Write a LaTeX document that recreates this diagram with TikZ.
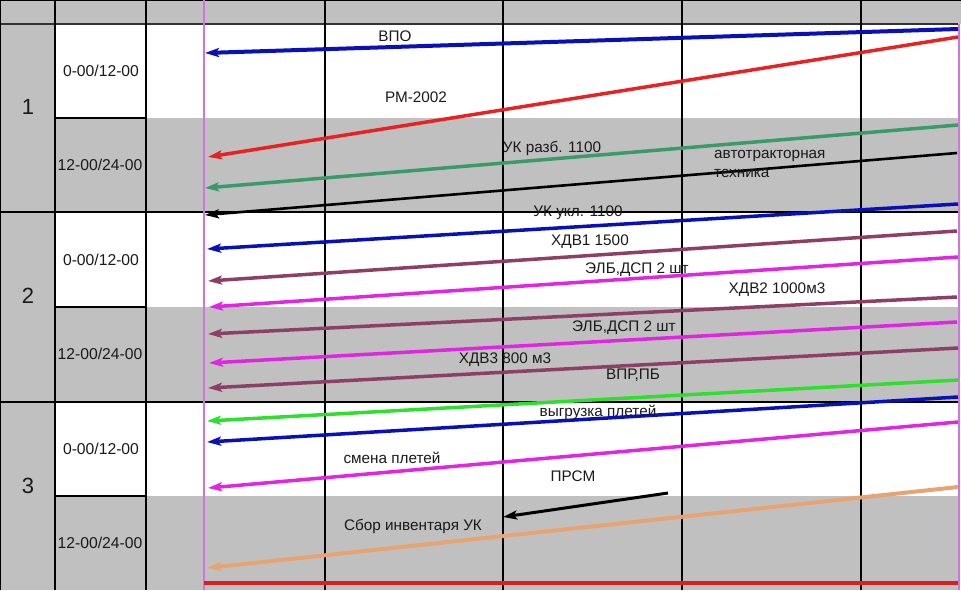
\documentclass[tikz,border=0pt]{standalone}
\usepackage{fontspec}
\setmainfont{Liberation Sans}
\usetikzlibrary{arrows.meta}
\definecolor{cellgray}{HTML}{C0C0C0}
\definecolor{cblue}{HTML}{0A10B8}
\definecolor{cred}{HTML}{E82222}
\definecolor{csea}{HTML}{3A9A6A}
\definecolor{cplum}{HTML}{8E3F68}
\definecolor{cmag}{HTML}{E026E0}
\definecolor{clime}{HTML}{2EE02E}
\definecolor{ctan}{HTML}{E6A474}
\definecolor{cbred}{HTML}{D82020}
\definecolor{cvline}{HTML}{CC77DD}
\definecolor{ctext}{HTML}{1A1A1A}
\tikzset{
  gridline/.style={draw=black,line width=1.3pt},
  vmark/.style={draw=cvline,line width=1.8pt},
  arr/.style={line width=3.5pt,-{Stealth[length=14pt,width=9pt,inset=3pt]}},
  lbl/.style={text=ctext,font=\fontsize{15.3}{18}\selectfont,inner sep=0pt},
  tlbl/.style={text=ctext,font=\fontsize{15.7}{18}\selectfont,inner sep=0pt},
  nlbl/.style={text=ctext,font=\fontsize{22}{24}\selectfont,inner sep=0pt}
}
\begin{document}
\begin{tikzpicture}[x=1pt,y=-1pt]
\useasboundingbox (0,0) rectangle (961,590);
% backgrounds
\fill[white] (0,0) rectangle (961,590);
\fill[cellgray] (0,0) rectangle (961,24);
\fill[cellgray] (0,0) rectangle (55,590);
\fill[cellgray] (55,118) rectangle (958,212);
\fill[cellgray] (55,307) rectangle (958,402);
\fill[cellgray] (55,496) rectangle (958,590);
% grid
\draw[gridline] (0,0.7) -- (961,0.7);
\draw[draw=black!80,line width=2pt] (0,24) -- (958,24);
\draw[gridline] (0,212) -- (958,212);
\draw[gridline] (0,402) -- (958,402);
\foreach \yy in {118,307,496} \draw[gridline] (55,\yy) -- (146,\yy);
\foreach \xx in {0.7,55,146,325,503,682,861} \draw[gridline] (\xx,0) -- (\xx,590);
\draw[vmark] (204,0) -- (204,590);
\draw[vmark] (959,24) -- (959,590);
% row labels
\node[nlbl] (n1) at (28,107) {1};
\node[nlbl] (n2) at (28,296) {2};
\node[nlbl] (n3) at (28,486) {3};
\node[tlbl] (t1a) at (101,71) {0-00/12-00};
\node[tlbl] (t1b) at (100,165) {12-00/24-00};
\node[tlbl] (t2a) at (101,260) {0-00/12-00};
\node[tlbl] (t2b) at (100,354) {12-00/24-00};
\node[tlbl] (t3a) at (101,449) {0-00/12-00};
\node[tlbl] (t3b) at (100,543) {12-00/24-00};
% endpoints
\coordinate (s1) at (958,29);  \coordinate (e1) at (205,53);
\coordinate (s2) at (958,37);  \coordinate (e2) at (208,157);
\coordinate (s3) at (958,125); \coordinate (e3) at (205,188);
\coordinate (s4) at (957,153); \coordinate (e4) at (205,215);
\coordinate (s5) at (958,204); \coordinate (e5) at (207,249);
\coordinate (s6) at (957,231); \coordinate (e6) at (208,281);
\coordinate (s7) at (958,257); \coordinate (e7) at (209,307);
\coordinate (s8) at (957,297); \coordinate (e8) at (208,334);
\coordinate (s9) at (957,322); \coordinate (e9) at (209,363);
\coordinate (s10) at (958,348); \coordinate (e10) at (208,388);
\coordinate (s11) at (958,380); \coordinate (e11) at (207,421);
\coordinate (s12) at (958,397); \coordinate (e12) at (207,442);
\coordinate (s13) at (958,422); \coordinate (e13) at (208,488);
\coordinate (s14) at (668,493); \coordinate (e14) at (503,517);
\coordinate (s15) at (958,487); \coordinate (e15) at (207,568);
\coordinate (s16) at (958,583); \coordinate (e16) at (204,583);
% arrows
\draw[arr,cblue,line width=4pt] (s1) -- (e1);
\draw[arr,cred] (s2) -- (e2);
\draw[arr,csea] (s3) -- (e3);
\draw[arr,black,line width=2.6pt] (s4) -- (e4);
\draw[arr,cblue] (s5) -- (e5);
\draw[arr,cplum] (s6) -- (e6);
\draw[arr,cmag] (s7) -- (e7);
\draw[arr,cplum] (s8) -- (e8);
\draw[arr,cmag] (s9) -- (e9);
\draw[arr,cplum] (s10) -- (e10);
\draw[arr,clime] (s11) -- (e11);
\draw[arr,cblue] (s12) -- (e12);
\draw[arr,cmag] (s13) -- (e13);
\draw[arr,black,line width=3pt] (s14) -- (e14);
\draw[arr,ctan,line width=4pt] (s15) -- (e15);
\draw[cbred,line width=4.5pt] (s16) -- (e16);
% labels
\node[lbl] (l1) at (395,36) {ВПО};
\node[lbl] (l2) at (416,97) {РМ-2002};
\node[lbl] (l3) at (552,148) {УК разб. 1100};
\node[lbl,align=left,anchor=west,font=\fontsize{15.3}{19}\selectfont] (l4) at (714,164) {автотракторная\\техника};
\node[lbl] (l5) at (578,213) {УК укл. 1100};
\node[lbl] (l6) at (590,242) {ХДВ1 1500};
\node[lbl] (l7) at (637,270) {ЭЛБ,ДСП 2 шт};
\node[lbl] (l8) at (777,290) {ХДВ2 1000м3};
\node[lbl] (l9) at (624,328) {ЭЛБ,ДСП 2 шт};
\node[lbl] (l10) at (505,360) {ХДВ3 800 м3};
\node[lbl] (l11) at (633,375) {ВПР,ПБ};
\node[lbl] (l12) at (598,412) {выгрузка плетей};
\node[lbl] (l13) at (392,458) {смена плетей};
\node[lbl] (l14) at (573,476) {ПРСМ};
\node[lbl] (l15) at (413,526) {Сбор инвентаря УК};
\end{tikzpicture}
\end{document}
